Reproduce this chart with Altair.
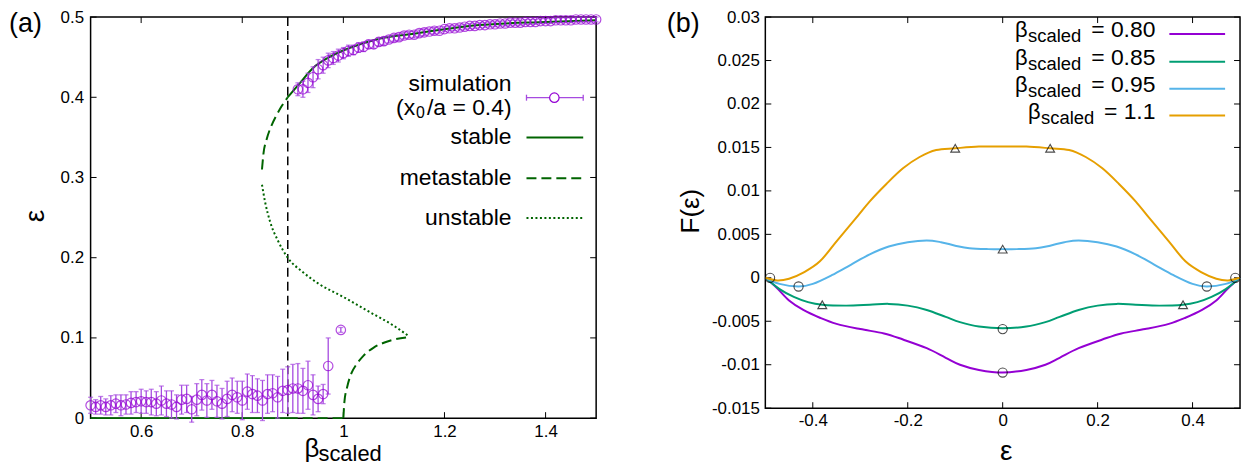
import altair as alt
import pandas as pd

FONT = "Liberation Sans"
PURPLE = "#9400D3"
ERRC = "#a64be0"
DKGREEN = "#006400"

# ---------------- panel (a) data ----------------
low_beta = [0.50, 0.51, 0.52, 0.53, 0.54, 0.55, 0.56, 0.57, 0.58, 0.59,
            0.60, 0.61, 0.62, 0.63, 0.64, 0.65, 0.66, 0.67, 0.68, 0.69,
            0.70, 0.71, 0.72, 0.73, 0.74, 0.75, 0.76, 0.77, 0.78, 0.79,
            0.80, 0.81, 0.82, 0.83, 0.84, 0.85, 0.86, 0.87, 0.88, 0.89,
            0.90, 0.91, 0.92, 0.93, 0.94, 0.95, 0.96, 0.97, 0.995]
low_eps = [0.016, 0.014, 0.016, 0.014, 0.016, 0.018, 0.016, 0.017, 0.019, 0.020,
           0.021, 0.020, 0.020, 0.018, 0.022, 0.018, 0.017, 0.014, 0.023, 0.024,
           0.011, 0.023, 0.029, 0.022, 0.029, 0.021, 0.018, 0.024, 0.029, 0.026,
           0.022, 0.033, 0.030, 0.028, 0.022, 0.030, 0.031, 0.026, 0.034, 0.035,
           0.037, 0.037, 0.034, 0.041, 0.029, 0.024, 0.030, 0.065, 0.110]
low_err = [0.010, 0.009, 0.011, 0.010, 0.012, 0.011, 0.013, 0.012, 0.014, 0.013,
           0.015, 0.014, 0.016, 0.015, 0.018, 0.016, 0.017, 0.015, 0.018, 0.017,
           0.016, 0.020, 0.019, 0.021, 0.018, 0.020, 0.019, 0.022, 0.021, 0.020,
           0.024, 0.022, 0.023, 0.021, 0.025, 0.024, 0.023, 0.026, 0.027, 0.029,
           0.030, 0.031, 0.028, 0.030, 0.025, 0.016, 0.012, 0.035, 0.003]

up_beta = [0.91, 0.92, 0.93, 0.94, 0.95, 0.96, 0.97, 0.98, 0.99, 1.00,
           1.01, 1.02, 1.03, 1.04, 1.05, 1.06, 1.07, 1.08, 1.09, 1.10,
           1.11, 1.12, 1.13, 1.14, 1.15, 1.16, 1.17, 1.18, 1.19, 1.20,
           1.21, 1.22, 1.23, 1.24, 1.25, 1.26, 1.27, 1.28, 1.29, 1.30,
           1.31, 1.32, 1.33, 1.34, 1.35, 1.36, 1.37, 1.38, 1.39, 1.40,
           1.41, 1.42, 1.43, 1.44, 1.45, 1.46, 1.47, 1.48, 1.49, 1.50]
up_eps = [0.410, 0.410, 0.418, 0.425, 0.435, 0.440, 0.446, 0.449, 0.452, 0.455,
          0.458, 0.459, 0.462, 0.463, 0.466, 0.466, 0.469, 0.470, 0.472, 0.474,
          0.475, 0.477, 0.478, 0.478, 0.480, 0.481, 0.482, 0.483, 0.483, 0.485,
          0.486, 0.486, 0.487, 0.488, 0.489, 0.489, 0.490, 0.490, 0.491, 0.491,
          0.492, 0.492, 0.493, 0.493, 0.493, 0.494, 0.494, 0.494, 0.495, 0.495,
          0.495, 0.496, 0.496, 0.496, 0.496, 0.497, 0.497, 0.497, 0.497, 0.497]
up_err = [0.008, 0.010, 0.012, 0.013, 0.012, 0.010, 0.009, 0.008, 0.008, 0.007,
          0.007, 0.006, 0.006, 0.006, 0.005, 0.005, 0.005, 0.005, 0.004, 0.004,
          0.004, 0.004, 0.004, 0.004, 0.004, 0.004, 0.003, 0.004, 0.003, 0.003,
          0.003, 0.003, 0.003, 0.003, 0.003, 0.003, 0.003, 0.003, 0.003, 0.003,
          0.003, 0.003, 0.003, 0.003, 0.003, 0.003, 0.003, 0.003, 0.003, 0.003,
          0.003, 0.003, 0.003, 0.003, 0.003, 0.003, 0.003, 0.003, 0.003, 0.003]

stable_up_beta = [0.89, 0.913, 0.939, 0.972, 1.006, 1.071, 1.136, 1.203, 1.268, 1.4, 1.5]
stable_up_eps = [0.400, 0.417, 0.436, 0.450, 0.460, 0.473, 0.479, 0.485, 0.490, 0.494, 0.496]
meta_up_beta = [0.839, 0.842, 0.848, 0.858, 0.868, 0.879, 0.89]
meta_up_eps = [0.310, 0.330, 0.347, 0.365, 0.378, 0.390, 0.400]
unstable_beta = [0.839, 0.845, 0.855, 0.87, 0.89, 0.92, 0.95, 1.0, 1.05, 1.1, 1.13]
unstable_eps = [0.291, 0.270, 0.245, 0.222, 0.200, 0.182, 0.168, 0.151, 0.133, 0.115, 0.102]
meta_low_beta = [1.0, 1.002, 1.008, 1.016, 1.027, 1.04, 1.06, 1.08, 1.1, 1.13]
meta_low_eps = [0.0, 0.020, 0.040, 0.056, 0.068, 0.078, 0.088, 0.094, 0.098, 0.101]
stable_zero_beta = [0.5, 0.89]
meta_zero_beta = [0.89, 1.0]
beta_c = [0.89]

xt1 = [0.6, 0.8, 1.0, 1.2, 1.4]
yt1 = [0.0, 0.1, 0.2, 0.3, 0.4, 0.5]
legend_a = ["stable", "metastable", "unstable"]

# ---------------- panel (b) data ----------------
series_b = ["0.80", "0.85", "0.95", "1.1"]
colors_b = ["#9400D3", "#009E73", "#56B4E9", "#E69F00"]

eps_080 = [-0.5, -0.475, -0.45, -0.42, -0.385, -0.35, -0.30, -0.25, -0.21, -0.16, -0.12, -0.09, -0.05, 0.0,
           0.05, 0.09, 0.12, 0.16, 0.21, 0.25, 0.30, 0.35, 0.385, 0.42, 0.45, 0.475, 0.5]
F_080 = [0.0, -0.0012, -0.0026, -0.0037, -0.0046, -0.0053, -0.0059, -0.0064, -0.0071, -0.0081, -0.0092, -0.0100, -0.0106, -0.0109,
         -0.0106, -0.0100, -0.0092, -0.0081, -0.0071, -0.0064, -0.0059, -0.0053, -0.0046, -0.0037, -0.0026, -0.0012, 0.0]
eps_085 = [-0.5, -0.47, -0.44, -0.41, -0.38, -0.33, -0.28, -0.24, -0.20, -0.16, -0.12, -0.09, -0.05, 0.0,
           0.05, 0.09, 0.12, 0.16, 0.20, 0.24, 0.28, 0.33, 0.38, 0.41, 0.44, 0.47, 0.5]
F_085 = [0.0, -0.0013, -0.0022, -0.0028, -0.0031, -0.0032, -0.0031, -0.0030, -0.0032, -0.0037, -0.0045, -0.0051, -0.0056, -0.0058,
         -0.0056, -0.0051, -0.0045, -0.0037, -0.0032, -0.0030, -0.0031, -0.0032, -0.0031, -0.0028, -0.0022, -0.0013, 0.0]
eps_095 = [-0.5, -0.47, -0.43, -0.40, -0.36, -0.32, -0.28, -0.24, -0.20, -0.16, -0.13, -0.10, -0.07, -0.03, 0.0,
           0.03, 0.07, 0.10, 0.13, 0.16, 0.20, 0.24, 0.28, 0.32, 0.36, 0.40, 0.43, 0.47, 0.5]
F_095 = [0.0, -0.0007, -0.0010, -0.0007, 0.0003, 0.0015, 0.0027, 0.0036, 0.0041, 0.0043, 0.0041, 0.0037, 0.0034, 0.0033, 0.0033,
         0.0033, 0.0034, 0.0037, 0.0041, 0.0043, 0.0041, 0.0036, 0.0027, 0.0015, 0.0003, -0.0007, -0.0010, -0.0007, 0.0]
eps_110 = [-0.5, -0.475, -0.45, -0.42, -0.385, -0.35, -0.31, -0.28, -0.245, -0.21, -0.175, -0.14, -0.10, -0.05, 0.0,
           0.05, 0.10, 0.14, 0.175, 0.21, 0.245, 0.28, 0.31, 0.35, 0.385, 0.42, 0.45, 0.475, 0.5]
F_110 = [0.0, -0.0003, -0.0001, 0.0006, 0.0019, 0.0042, 0.0068, 0.0088, 0.0108, 0.0126, 0.0139, 0.0147, 0.0149, 0.0151, 0.0151,
         0.0151, 0.0149, 0.0147, 0.0139, 0.0126, 0.0108, 0.0088, 0.0068, 0.0042, 0.0019, 0.0006, -0.0001, -0.0003, 0.0]

circ_eps = [-0.49, 0.49, -0.43, 0.43, 0.0, 0.0]
circ_F = [0.0, 0.0, -0.0010, -0.0010, -0.0059, -0.0109]
tri_eps = [-0.38, 0.38, 0.0, -0.10, 0.10]
tri_F = [-0.0031, -0.0031, 0.0033, 0.0149, 0.0149]

xt2 = [-0.4, -0.2, 0.0, 0.2, 0.4]
yt2 = [-0.015, -0.01, -0.005, 0.0, 0.005, 0.01, 0.015, 0.02, 0.025, 0.03]

# ---------------- geometry ----------------
W1, H1 = 508, 403
W2, H2 = 477, 393
TK = 6

SX1 = alt.Scale(domain=[0.5, 1.5], nice=False, zero=False)
SY1 = alt.Scale(domain=[0.0, 0.5], nice=False, zero=False)
SX2 = alt.Scale(domain=[-0.5, 0.5], nice=False, zero=False)
SY2 = alt.Scale(domain=[-0.015, 0.03], nice=False, zero=False)

AX1 = alt.Axis(values=xt1, format="~g", labelFontSize=17, labelPadding=5)
AY1 = alt.Axis(values=yt1, format="~g", labelFontSize=17, labelPadding=7)
MINUS_FIX = "replace(format(datum.value, '.3~f'), '\u2212', '-')"
AX2 = alt.Axis(values=xt2, labelExpr=MINUS_FIX, labelFontSize=17, labelPadding=4)
AY2 = alt.Axis(values=yt2, labelExpr=MINUS_FIX, labelFontSize=17, labelPadding=6)


def X1(f):
    return alt.X(f, type="quantitative", scale=SX1, axis=AX1, title=None)


def Y1(f):
    return alt.Y(f, type="quantitative", scale=SY1, axis=AY1, title=None)


def X2(f):
    return alt.X(f, type="quantitative", scale=SX2, axis=AX2, title=None)


def Y2(f):
    return alt.Y(f, type="quantitative", scale=SY2, axis=AY2, title=None)


ONE = pd.DataFrame({"a": [0]})


def txt(s, x, y, size, align="left", baseline="alphabetic", angle=0, color="black"):
    kw = dict(font=FONT, fontSize=size, align=align, baseline=baseline, color=color)
    if angle:
        kw["angle"] = angle
    return alt.Chart(ONE).mark_text(**kw).encode(
        x=alt.value(x), y=alt.value(y), text=alt.value(s))


def ghost(x, y):
    # invisible layout anchor (fixes the bounds of a panel)
    return alt.Chart(ONE).mark_rule(strokeOpacity=0, opacity=0, strokeWidth=1).encode(
        x=alt.value(x), y=alt.value(y), y2=alt.value(y + 1))


def tick_layers(xt, yt, X, Y, W, H):
    dx = pd.DataFrame({"v": xt})
    dy = pd.DataFrame({"v": yt})
    r = dict(color="black", strokeWidth=1)
    return [
        alt.Chart(dx).mark_rule(**r).encode(x=X("v"), y=alt.value(H), y2=alt.value(H - TK)),
        alt.Chart(dx).mark_rule(**r).encode(x=X("v"), y=alt.value(0), y2=alt.value(TK)),
        alt.Chart(dy).mark_rule(**r).encode(y=Y("v"), x=alt.value(0), x2=alt.value(TK)),
        alt.Chart(dy).mark_rule(**r).encode(y=Y("v"), x=alt.value(W), x2=alt.value(W - TK)),
    ]


# ---------------- panel (a) ----------------
def curve(b, e, dash=None, interp="monotone", color=DKGREEN):
    kw = dict(color=color, strokeWidth=2, interpolate=interp)
    if dash:
        kw["strokeDash"] = dash
    return alt.Chart(pd.DataFrame({"beta": b, "eps": e})).mark_line(**kw).encode(
        x=X1("beta"), y=Y1("eps"))


DASH = [10, 5]
DOT = [2, 2.5]

sim = pd.DataFrame({"beta": low_beta + up_beta, "eps": low_eps + up_eps, "err": low_err + up_err})
sim["lo"] = sim["eps"] - sim["err"]
sim["hi"] = sim["eps"] + sim["err"]

layers_a = tick_layers(xt1, yt1, X1, Y1, W1, H1)
layers_a += [
    alt.Chart(pd.DataFrame({"beta": beta_c})).mark_rule(color="black", strokeWidth=1.5, strokeDash=[9, 5]).encode(
        x=X1("beta"), y=alt.value(0), y2=alt.value(H1)),
    curve(stable_zero_beta, [0.0, 0.0], interp="linear"),
    curve(meta_zero_beta, [0.0, 0.0], dash=DASH, interp="linear"),
    curve(meta_low_beta, meta_low_eps, dash=DASH),
    curve(unstable_beta, unstable_eps, dash=DOT),
    curve(meta_up_beta, meta_up_eps, dash=DASH),
    curve(stable_up_beta, stable_up_eps),
    alt.Chart(sim).mark_rule(color=ERRC, strokeWidth=1.3).encode(x=X1("beta"), y=Y1("lo"), y2=alt.Y2("hi")),
    alt.Chart(sim).mark_tick(orient="horizontal", color=ERRC, size=5, thickness=1.3).encode(x=X1("beta"), y=Y1("lo")),
    alt.Chart(sim).mark_tick(orient="horizontal", color=ERRC, size=5, thickness=1.3).encode(x=X1("beta"), y=Y1("hi")),
    alt.Chart(sim).mark_point(shape="circle", filled=False, size=90, color=PURPLE, strokeWidth=1.2).encode(
        x=X1("beta"), y=Y1("eps")),
]

# legend (a)
LT = 23
layers_a += [
    txt("simulation", 423, 67, LT, align="right", baseline="middle"),
    txt("(x", 307, 98, LT, align="left", baseline="alphabetic"),
    txt("0", 327, 101, 16, align="left", baseline="alphabetic"),
    txt("/a = 0.4)", 423, 98, LT, align="right", baseline="alphabetic"),
    alt.Chart(ONE).mark_rule(color=ERRC, strokeWidth=1.3).encode(
        x=alt.value(438), x2=alt.value(495), y=alt.value(81)),
    alt.Chart(ONE).mark_rule(color=ERRC, strokeWidth=1.3).encode(
        x=alt.value(438), y=alt.value(78), y2=alt.value(84)),
    alt.Chart(ONE).mark_rule(color=ERRC, strokeWidth=1.3).encode(
        x=alt.value(495), y=alt.value(78), y2=alt.value(84)),
    alt.Chart(ONE).mark_point(shape="circle", filled=False, size=90, color=PURPLE,
                              strokeWidth=1.2, fill="white", fillOpacity=1).encode(
        x=alt.value(466), y=alt.value(81)),
]
leg_y = [121, 162, 202]
leg_dash = [None, DASH, DOT]
for lab, yy, dd in zip(legend_a, leg_y, leg_dash):
    kw = dict(color=DKGREEN, strokeWidth=2)
    if dd:
        kw["strokeDash"] = dd
    layers_a.append(txt(lab, 423, yy, LT, align="right", baseline="middle"))
    layers_a.append(alt.Chart(ONE).mark_rule(**kw).encode(
        x=alt.value(438), x2=alt.value(495), y=alt.value(yy)))

# titles (a)
layers_a += [
    txt("(a)", -82, -6, 27, align="left", baseline="top"),
    txt("\u03b5", -47, 200, 28, align="center", baseline="alphabetic", angle=270),
    txt("\u03b2", 215, 442, 26, align="left", baseline="alphabetic"),
    txt("scaled", 229, 446, 22, align="left", baseline="alphabetic"),
    ghost(-90, -16), ghost(W1 + 12, 100), ghost(100, H1 + 55),
]

panel_a = alt.layer(*layers_a).properties(width=W1, height=H1)

# ---------------- panel (b) ----------------
rows = []
for s, e, f in zip(series_b, [eps_080, eps_085, eps_095, eps_110], [F_080, F_085, F_095, F_110]):
    for a, b in zip(e, f):
        rows.append({"series": s, "eps": a, "F": b})
curves_b = pd.DataFrame(rows)

layers_b = tick_layers(xt2, yt2, X2, Y2, W2, H2)
layers_b += [
    alt.Chart(curves_b).mark_line(strokeWidth=2, interpolate="cardinal").encode(
        x=X2("eps"), y=Y2("F"),
        color=alt.Color("series:N", scale=alt.Scale(domain=series_b, range=colors_b), legend=None)),
    alt.Chart(pd.DataFrame({"eps": circ_eps, "F": circ_F})).mark_point(
        shape="circle", filled=False, size=85, color="black", strokeWidth=1.1).encode(x=X2("eps"), y=Y2("F")),
    alt.Chart(pd.DataFrame({"eps": tri_eps, "F": tri_F})).mark_point(
        shape="triangle-up", filled=False, size=80, color="black", strokeWidth=1.1).encode(x=X2("eps"), y=Y2("F")),
]

# legend (b)
leg_b_y = [17, 45, 72, 99]
leg_b_bx = [251, 251, 251, 264]
for s, c, yy, bx in zip(series_b, colors_b, leg_b_y, leg_b_bx):
    layers_b += [
        txt("\u03b2", bx, yy + 3, 22, align="left", baseline="alphabetic"),
        txt("scaled", bx + 13, yy + 8, 18.5, align="left", baseline="alphabetic"),
        txt("= " + s, 392, yy + 3, 23, align="right", baseline="alphabetic"),
        alt.Chart(ONE).mark_rule(color=c, strokeWidth=2).encode(
            x=alt.value(406), x2=alt.value(462), y=alt.value(yy)),
    ]

layers_b += [
    txt("(b)", -99, -6, 27, align="left", baseline="top"),
    txt("F(\u03b5)", -67, 195, 26, align="center", baseline="alphabetic", angle=270),
    txt("\u03b5", 242, 445, 28, align="center", baseline="alphabetic"),
    ghost(-110, -16), ghost(W2 + 1.5, 100), ghost(100, H2 + 40),
]

panel_b = alt.layer(*layers_b).properties(width=W2, height=H2)

chart = alt.hconcat(panel_a, panel_b, spacing=46).properties(
    padding={"left": -8, "top": -9, "right": 0, "bottom": -7}).configure_view(
    stroke="black", strokeWidth=1.5).configure_axis(
    ticks=False, domain=False, grid=False, labelFont=FONT, labelColor="black",
    labelFlush=False, labelOverlap=False, labelBound=False)

chart.save("out.html", embed_options={"renderer": "svg", "actions": False})
